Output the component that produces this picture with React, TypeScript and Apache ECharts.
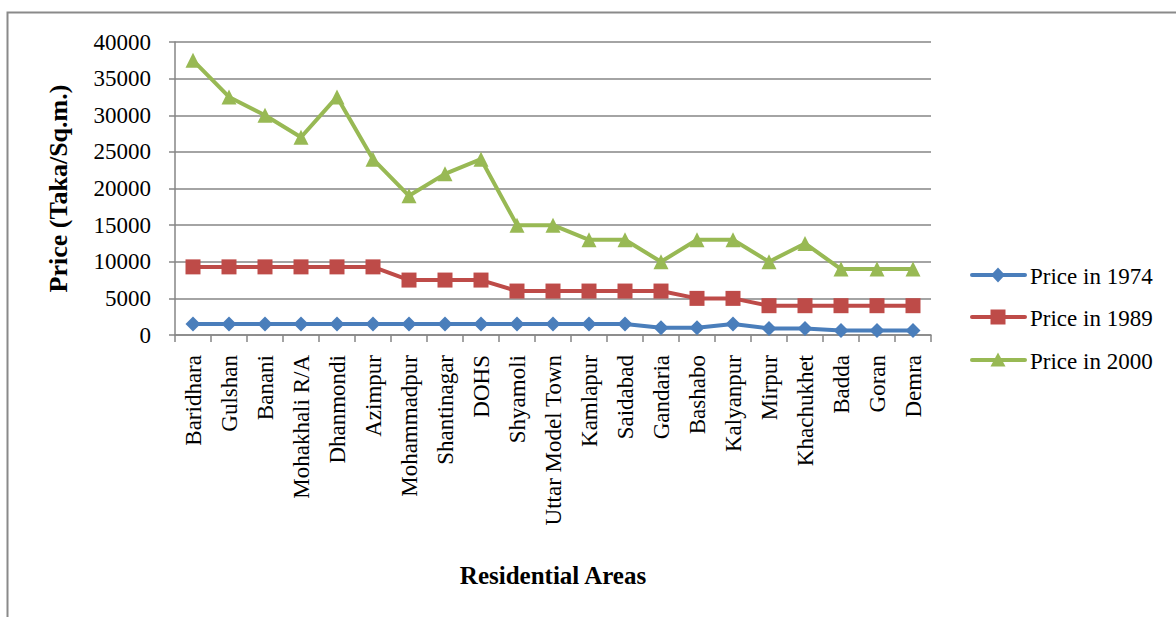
import React, { useEffect, useRef } from "react";
import * as echarts from "echarts";

const categories = [
  "Baridhara", "Gulshan", "Banani", "Mohakhali R/A", "Dhanmondi", "Azimpur",
  "Mohammadpur", "Shantinagar", "DOHS", "Shyamoli", "Uttar Model Town", "Kamlapur",
  "Saidabad", "Gandaria", "Bashabo", "Kalyanpur", "Mirpur", "Khachukhet", "Badda",
  "Goran", "Demra",
];

const price1974 = [1500, 1500, 1500, 1500, 1500, 1500, 1500, 1500, 1500, 1500, 1500, 1500, 1500, 1000, 1000, 1500, 900, 900, 600, 600, 600];
const price1989 = [9300, 9300, 9300, 9300, 9300, 9300, 7500, 7500, 7500, 6000, 6000, 6000, 6000, 6000, 5000, 5000, 4000, 4000, 4000, 4000, 4000];
const price2000 = [37500, 32500, 30000, 27000, 32500, 24000, 19000, 22000, 24000, 15000, 15000, 13000, 13000, 10000, 13000, 13000, 10000, 12500, 9000, 9000, 9000];

const seriesNames = ["Price in 1974", "Price in 1989", "Price in 2000"];
const colors = ["#4A7EBB", "#BE4B48", "#98B954"];
const symbols = ["diamond", "rect", "triangle"];

function legendGraphics(font: string) {
  const rowsY = [275, 317, 360];
  const x0 = 972;
  const x1 = 1025;
  const cx = 998;
  const out: any[] = [];
  seriesNames.forEach((name, i) => {
    const y = rowsY[i];
    const c = colors[i];
    out.push({
      type: "line",
      shape: { x1: x0, y1: y, x2: x1, y2: y },
      style: { stroke: c, lineWidth: 4, lineCap: "round" },
    });
    if (symbols[i] === "diamond") {
      out.push({
        type: "polygon",
        shape: { points: [[cx, y - 7.5], [cx + 7, y], [cx, y + 7.5], [cx - 7, y]] },
        style: { fill: c },
      });
    } else if (symbols[i] === "rect") {
      out.push({
        type: "rect",
        shape: { x: cx - 7.5, y: y - 7.5, width: 15, height: 15 },
        style: { fill: c },
      });
    } else {
      out.push({
        type: "polygon",
        shape: { points: [[cx, y - 7.5], [cx + 7.5, y + 6.5], [cx - 7.5, y + 6.5]] },
        style: { fill: c },
      });
    }
    out.push({
      type: "text",
      x: 1030,
      y: y + 1,
      style: {
        text: name,
        fontFamily: font,
        fontSize: 23,
        fill: "#000",
        textAlign: "left",
        textVerticalAlign: "middle",
        verticalAlign: "middle",
      },
    });
  });
  return out;
}

export default function App() {
  const ref = useRef<HTMLDivElement>(null);
  useEffect(() => {
    if (!ref.current) return;
    const chart = echarts.init(ref.current, undefined, { renderer: "svg" });
    const font = "'Liberation Serif', serif";
    const data = [price1974, price1989, price2000];
    chart.setOption({
      animation: false,
      textStyle: { fontFamily: font },
      graphic: [
        {
          type: "rect",
          shape: { x: 7.5, y: 12.5, width: 1300, height: 800 },
          style: { fill: "none", stroke: "#8a8a8a", lineWidth: 2 },
        },
        ...legendGraphics(font),
      ],
      grid: { left: 175, right: 245, top: 42, bottom: 282 },
      legend: { show: false, data: seriesNames },
      xAxis: {
        type: "category",
        data: categories,
        boundaryGap: true,
        name: "Residential Areas",
        nameLocation: "middle",
        nameGap: 228,
        nameTextStyle: { fontFamily: font, fontSize: 25, fontWeight: "bold", color: "#000" },
        axisLine: { lineStyle: { color: "#868686", width: 1.5 } },
        axisTick: { show: true, length: 7, lineStyle: { color: "#868686", width: 1.5 } },
        axisLabel: { rotate: 90, fontSize: 23, margin: 20, color: "#000", fontFamily: font, interval: 0 },
        splitLine: { show: false },
      },
      yAxis: {
        type: "value",
        min: 0,
        max: 40000,
        interval: 5000,
        name: "Price (Taka/Sq.m.)",
        nameLocation: "middle",
        nameRotate: 90,
        nameGap: 104,
        nameTextStyle: { fontFamily: font, fontSize: 26, fontWeight: "bold", color: "#000" },
        axisLine: { show: true, lineStyle: { color: "#868686", width: 1.5 } },
        axisTick: { show: true, length: 6, lineStyle: { color: "#868686", width: 1.5 } },
        axisLabel: {
          fontSize: 23,
          margin: 24,
          color: "#000",
          fontFamily: font,
          formatter: (v: number) => String(v),
        },
        splitLine: { lineStyle: { color: "#868686", width: 1.5 } },
      },
      series: data.map((d, i) => ({
        name: seriesNames[i],
        type: "line",
        data: d,
        symbol: symbols[i],
        symbolSize: 15,
        showSymbol: true,
        lineStyle: { color: colors[i], width: 4 },
        itemStyle: { color: colors[i] },
      })),
    });
    return () => chart.dispose();
  }, []);
  return (
    <div style={{ position: "fixed", left: 0, top: 0, width: 1176, height: 617, background: "#fff" }}>
      <div ref={ref} style={{ width: 1176, height: 617 }} />
    </div>
  );
}
